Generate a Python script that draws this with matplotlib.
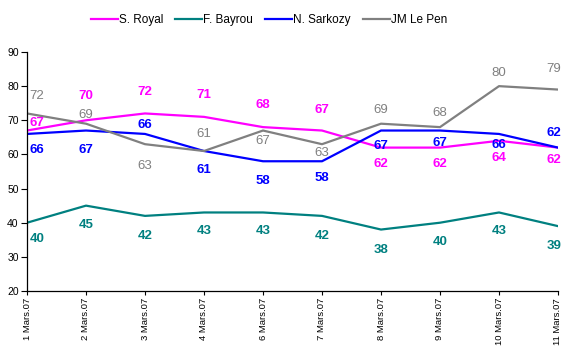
import matplotlib
matplotlib.use("Agg")
import matplotlib.pyplot as plt

# Data
dates = ["1 Mars.07", "2 Mars.07", "3 Mars.07", "4 Mars.07", "6 Mars.07",
         "7 Mars.07", "8 Mars.07", "9 Mars.07", "10 Mars.07", "11 Mars.07"]
royal = [67, 70, 72, 71, 68, 67, 62, 62, 64, 62]
bayrou = [40, 45, 42, 43, 43, 42, 38, 40, 43, 39]
sarkozy = [66, 67, 66, 61, 58, 58, 67, 67, 66, 62]
lepen = [72, 69, 63, 61, 67, 63, 69, 68, 80, 79]

# vertical label offsets in pixels (positive = above the point)
royal_off = [8, 24, 21, 22, 22, 21, -16, -16, -17, -12]
bayrou_off = [-16, -19, -20, -19, -19, -20, -20, -19, -19, -20]
sarkozy_off = [-16, -19, 9, -19, -20, -17, -15, -12, -11, 15]
lepen_off = [17, 9, -22, 17, -10, -9, 14, 14, 13, 21]

plt.rcParams["font.family"] = ["Liberation Sans", "DejaVu Sans"]

fig = plt.figure(figsize=(5.78, 3.56), dpi=100)
ax = fig.add_axes([27 / 578, 1 - 291 / 356, 531 / 578, 239 / 356])

series = [
    ("S. Royal", royal, royal_off, "#ff00ff", "bold"),
    ("F. Bayrou", bayrou, bayrou_off, "#008080", "bold"),
    ("N. Sarkozy", sarkozy, sarkozy_off, "#0000ff", "bold"),
    ("JM Le Pen", lepen, lepen_off, "#808080", "normal"),
]

x = list(range(len(dates)))
for name, vals, offs, color, weight in series:
    ax.plot(x, vals, color=color, lw=1.6, label=name)
    for i, (v, o) in enumerate(zip(vals, offs)):
        dx = 10 if i == 0 else (-4 if i == len(x) - 1 else 0)
        ax.annotate(str(v), (i, v), xytext=(dx, o), textcoords="offset pixels",
                    ha="center", va="center", color=color, fontsize=9.5,
                    fontweight=weight, annotation_clip=False)

ax.set_xlim(0, len(dates) - 1)
ax.set_ylim(20, 90)
ax.set_yticks(range(20, 91, 10))
ax.set_xticks(x)
ax.set_xticklabels(dates, rotation=90, fontsize=6.8)
ax.tick_params(axis="y", labelsize=7.5, length=4, width=0.8, pad=2)
ax.tick_params(axis="x", length=3, width=0.8, pad=2)
for sp in ["top", "right"]:
    ax.spines[sp].set_visible(False)
for sp in ["left", "bottom"]:
    ax.spines[sp].set_linewidth(0.9)

fig.legend(loc="center", bbox_to_anchor=(269 / 578, 1 - 20 / 356), ncol=4,
           frameon=False, fontsize=8.5, handlelength=2.3, handletextpad=0.1,
           columnspacing=1.0)

fig.savefig("out.png", dpi=100)
